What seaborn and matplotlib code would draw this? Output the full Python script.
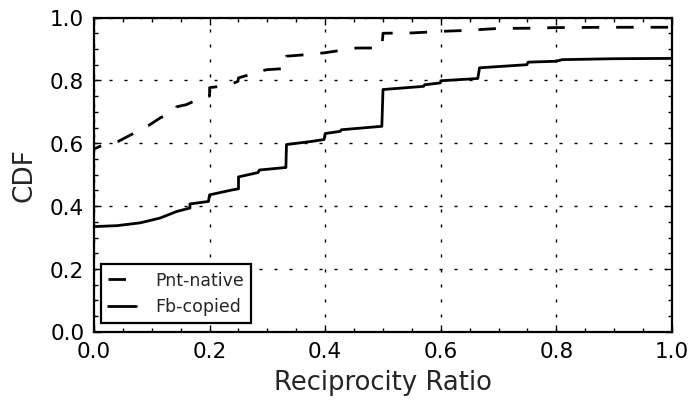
import matplotlib
matplotlib.use("Agg")
import matplotlib.pyplot as plt
import seaborn as sns
import pandas as pd

# Data (CDF of reciprocity ratio)
pnt_x = [0.0, 0.01, 0.042, 0.068, 0.094, 0.114, 0.142, 0.143, 0.160, 0.192, 0.2, 0.2,
         0.232, 0.249, 0.25, 0.276, 0.285, 0.286, 0.299, 0.332, 0.333, 0.368, 0.4,
         0.454, 0.498, 0.5, 0.55, 0.581, 0.6, 0.645, 0.697, 0.75, 0.8, 0.9, 1.0]
pnt_y = [0.582, 0.59, 0.606, 0.631, 0.656, 0.680, 0.707, 0.716, 0.723, 0.750, 0.750, 0.777,
         0.784, 0.797, 0.808, 0.822, 0.826, 0.829, 0.834, 0.838, 0.877, 0.882, 0.888,
         0.903, 0.903, 0.950, 0.951, 0.954, 0.956, 0.959, 0.965, 0.966, 0.968, 0.969, 0.969]

fb_x = [0.0, 0.04, 0.08, 0.114, 0.143, 0.166, 0.166, 0.198, 0.2, 0.24, 0.25, 0.25,
        0.284, 0.286, 0.332, 0.333, 0.377, 0.398, 0.4, 0.426, 0.428, 0.498, 0.5,
        0.57, 0.572, 0.599, 0.601, 0.664, 0.667, 0.749, 0.751, 0.8, 0.81, 0.9, 1.0]
fb_y = [0.335, 0.338, 0.347, 0.362, 0.383, 0.394, 0.407, 0.415, 0.436, 0.452, 0.455, 0.493,
        0.507, 0.515, 0.523, 0.596, 0.606, 0.612, 0.631, 0.638, 0.643, 0.654, 0.771,
        0.781, 0.786, 0.792, 0.799, 0.806, 0.840, 0.850, 0.858, 0.861, 0.866, 0.869, 0.870]

series_names = ["Pnt-native", "Fb-copied"]
x_ticks = [0.0, 0.2, 0.4, 0.6, 0.8, 1.0]
y_ticks = [0.0, 0.2, 0.4, 0.6, 0.8, 1.0]

df = pd.DataFrame({
    "x": pnt_x + fb_x,
    "y": pnt_y + fb_y,
    "series": [series_names[0]] * len(pnt_x) + [series_names[1]] * len(fb_x),
})

sns.set_style("ticks")
plt.rcParams["font.family"] = ["DejaVu Sans"]

fig = plt.figure(figsize=(6.94, 4.025), dpi=100)
ax = fig.add_axes([94 / 694, 1 - 332 / 402, 578 / 694, 314 / 402])

sns.lineplot(data=df, x="x", y="y", style="series", color="black",
             dashes={series_names[0]: (6.3, 6.1), series_names[1]: ""},
             estimator=None, sort=False, linewidth=2.0, legend=False, ax=ax)

data_lines = ax.get_lines()[:2]

ax.set_xlim(0, 1)
ax.set_ylim(0, 1)
ax.set_xticks(x_ticks)
ax.set_yticks(y_ticks)
ax.set_xticklabels([f"{v:.1f}" for v in x_ticks])
ax.set_yticklabels([f"{v:.1f}" for v in y_ticks])
ax.set_xticks([i * 0.05 for i in range(21)], minor=True)
ax.set_yticks([i * 0.05 for i in range(21)], minor=True)
ax.tick_params(which="both", direction="in", top=True, right=True, colors="black")
ax.tick_params(which="major", length=5, width=1, labelsize=15.5, pad=7)
ax.tick_params(which="minor", length=3, width=1)
for s in ax.spines.values():
    s.set_linewidth(1.6)
    s.set_color("black")
    s.set_visible(True)
ax.grid(True, which="major", color="black", linestyle=(0, (2.2, 8.6)), linewidth=1.0)

ax.set_xlabel("Reciprocity Ratio", fontsize=18.6, labelpad=6)
ax.set_ylabel("CDF", fontsize=19, labelpad=9)

leg = ax.legend(handles=data_lines, labels=series_names,
                loc="lower left", bbox_to_anchor=(7 / 578, 9 / 314), borderaxespad=0,
                fontsize=12.5, handlelength=1.6, handletextpad=1.1, fancybox=False,
                framealpha=1, edgecolor="black")
leg.get_frame().set_linewidth(1.6)

# shift the dash phase of the plotted curve (legend handle keeps a full dash)
data_lines[0].set_linestyle((3.5, (6.3, 6.1)))

fig.savefig("out.png", dpi=100)
